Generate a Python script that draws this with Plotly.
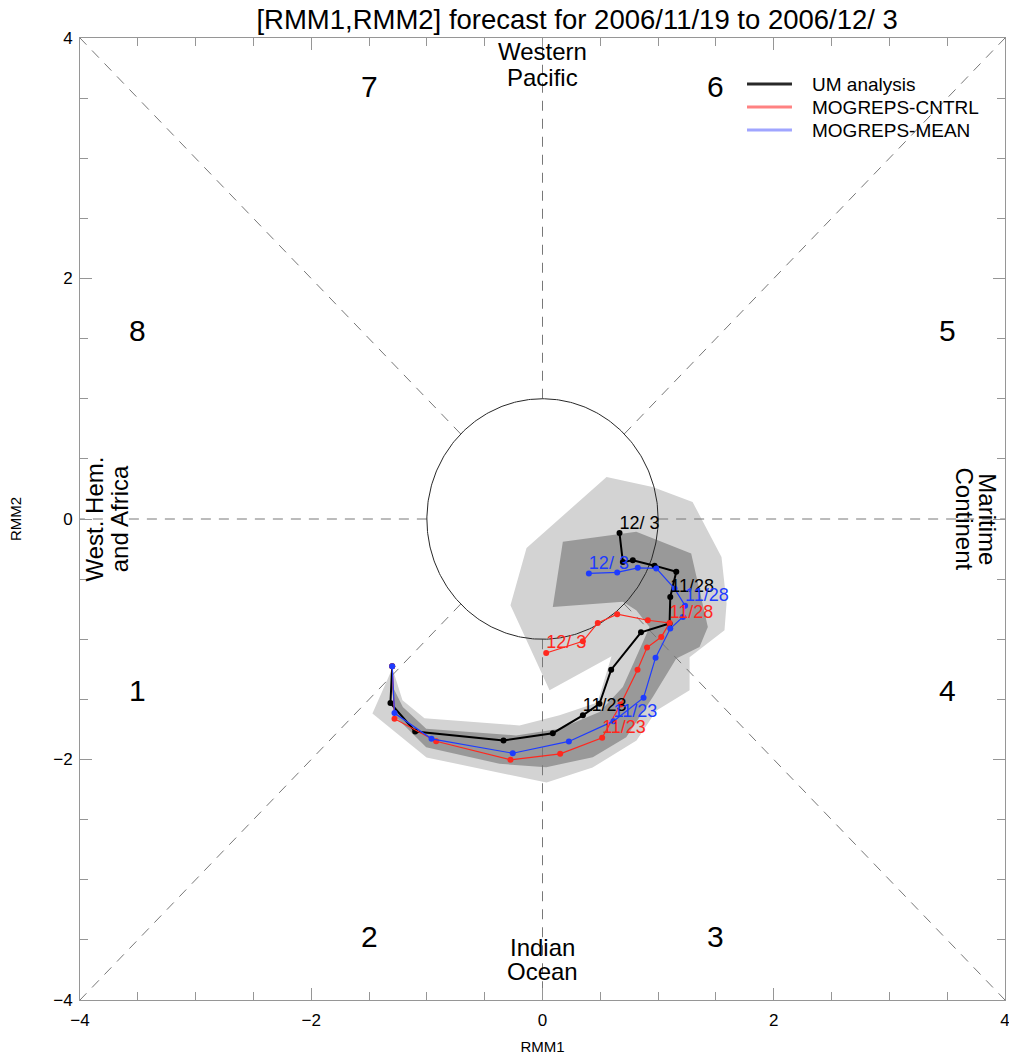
import numpy as np
import plotly.graph_objects as go

# ---------------- data (RMM1, RMM2), 2006/11/18 initial .. 2006/12/03 ----------------
um_rmm1 = [-1.300, -1.315, -1.101, -0.337, 0.089, 0.349, 0.493, 0.594, 0.852, 1.099,
           1.105, 1.157, 0.969, 0.781, 0.695, 0.666]
um_rmm2 = [-1.225, -1.531, -1.767, -1.842, -1.781, -1.633, -1.536, -1.253, -0.942, -0.869,
           -0.648, -0.438, -0.388, -0.344, -0.358, -0.117]

ctl_rmm1 = [-1.300, -1.280, -0.920, -0.277, 0.153, 0.516, 0.675, 0.822, 0.904, 1.027,
            1.099, 0.911, 0.646, 0.478, 0.349, 0.032]
ctl_rmm2 = [-1.225, -1.661, -1.848, -2.003, -1.953, -1.819, -1.542, -1.253, -1.069, -0.981,
            -0.864, -0.842, -0.792, -0.864, -1.017, -1.114]

mean_rmm1 = [-1.300, -1.280, -0.960, -0.257, 0.228, 0.614, 0.874, 0.978, 1.105, 1.214,
             1.233, 1.142, 0.984, 0.824, 0.646, 0.401]
mean_rmm2 = [-1.225, -1.614, -1.828, -1.948, -1.850, -1.681, -1.486, -1.153, -0.911, -0.814,
             -0.721, -0.579, -0.411, -0.406, -0.444, -0.453]

date_labels = ["11/23", "11/28", "12/ 3"]
date_index = [5, 10, 15]

# ensemble spread envelopes
outer_rmm1 = [0.061, -0.277, -0.138, 0.554, 0.952, 1.298, 1.548, 1.592, 1.574, 1.272, 1.272,
              0.986, 0.813, 0.433, 0.035, -0.346, -1.003, -1.471, -1.298, -1.211, -1.021,
              -0.199, 0.147, 0.476, 0.597, 0.061]
outer_rmm2 = [-1.425, -0.717, -0.242, 0.350, 0.267, 0.142, -0.317, -0.700, -0.925, -1.150,
              -1.425, -1.592, -1.842, -2.067, -2.192, -2.117, -1.983, -1.617, -1.242, -1.508,
              -1.658, -1.717, -1.633, -1.525, -1.142, -1.425]

inner_rmm1 = [0.176, 0.811, 1.286, 1.330, 1.430, 1.358, 1.157, 0.954, 0.724, 0.435, 0.032,
              -0.372, -1.006, -1.266, -1.309, -1.208, -1.006, -0.228, 0.147, 0.493, 0.695,
              0.811, 0.926, 0.811, 0.695, 0.089, 0.176]
inner_rmm2 = [-0.189, -0.106, -0.286, -0.481, -0.898, -1.064, -1.161, -1.481, -1.814, -1.981,
              -2.064, -2.036, -1.898, -1.648, -1.369, -1.564, -1.744, -1.800, -1.744, -1.606,
              -1.398, -1.148, -0.898, -0.758, -0.689, -0.731, -0.189]

phase_names = ["1", "2", "3", "4", "5", "6", "7", "8"]
series_names = ["UM analysis", "MOGREPS-CNTRL", "MOGREPS-MEAN"]

FONT = "Liberation Sans, Arial, sans-serif"
BLACK = "#000000"
RED = "rgb(255,40,30)"
BLUE = "rgb(30,60,255)"

fig = go.Figure()

# shading
fig.add_trace(go.Scatter(x=outer_rmm1, y=outer_rmm2, mode="lines", fill="toself",
                         fillcolor="rgb(211,211,211)", line=dict(width=0),
                         hoverinfo="skip", showlegend=False))
fig.add_trace(go.Scatter(x=inner_rmm1, y=inner_rmm2, mode="lines", fill="toself",
                         fillcolor="rgb(153,153,153)", line=dict(width=0),
                         hoverinfo="skip", showlegend=False))

# phase-dividing dashed lines (outside unit circle)
for ang in range(0, 360, 45):
    a = np.deg2rad(ang)
    rmax = 4.0 / max(abs(np.cos(a)), abs(np.sin(a)))
    fig.add_trace(go.Scatter(x=[np.cos(a), rmax * np.cos(a)],
                             y=[np.sin(a), rmax * np.sin(a)],
                             mode="lines", line=dict(color="rgb(120,120,120)", width=1,
                                                     dash="10px,8px"),
                             hoverinfo="skip", showlegend=False))

# unit circle
th = np.linspace(0, 2 * np.pi, 361)
fig.add_trace(go.Scatter(x=np.cos(th), y=np.sin(th), mode="lines",
                         line=dict(color="rgb(40,40,40)", width=1),
                         hoverinfo="skip", showlegend=False))

# trajectories
series = [
    (um_rmm1, um_rmm2, BLACK, 2.0),
    (ctl_rmm1, ctl_rmm2, RED, 1.2),
    (mean_rmm1, mean_rmm2, BLUE, 1.2),
]
for (xs, ys, col, w) in series:
    fig.add_trace(go.Scatter(x=xs, y=ys, mode="lines+markers",
                             line=dict(color=col, width=w),
                             marker=dict(color=col, size=6),
                             hoverinfo="skip", showlegend=False))
for (xs, ys, col, w) in series:
    fig.add_trace(go.Scatter(x=[xs[i] for i in date_index], y=[ys[i] for i in date_index],
                             mode="text", text=date_labels, textposition="top right",
                             textfont=dict(family=FONT, size=18, color=col),
                             hoverinfo="skip", showlegend=False))

# legend (drawn manually, paper coordinates)
legend_cols = ["rgb(40,40,40)", "rgb(255,130,130)", "rgb(160,165,255)"]
legend_y = [0.9522, 0.9283, 0.9044]
for name, col, ly in zip(series_names, legend_cols, legend_y):
    fig.add_shape(type="line", xref="paper", yref="paper", x0=0.7211, x1=0.7697,
                  y0=ly, y1=ly, line=dict(color=col, width=3))
    fig.add_annotation(xref="paper", yref="paper", x=0.7892, y=ly - 0.001, text=name,
                       showarrow=False, xanchor="left", yanchor="middle",
                       font=dict(family=FONT, size=19, color="black"))

# phase numbers
phase_x = [-3.5, -1.5, 1.5, 3.5, 3.5, 1.5, -1.5, -3.5]
phase_y = [-1.43, -3.47, -3.47, -1.43, 1.57, 3.6, 3.6, 1.57]
for t, px, py in zip(phase_names, phase_x, phase_y):
    fig.add_annotation(x=px, y=py, text=t, showarrow=False,
                       font=dict(family=FONT, size=30, color="black"),
                       xanchor="center", yanchor="middle")

region_font = dict(family=FONT, size=24, color="black")
region_lines = [
    ("Western", 0, 3.89, 0), ("Pacific", 0, 3.675, 0),
    ("Indian", 0, -3.567, 0), ("Ocean", 0, -3.767, 0),
    ("West. Hem.", -3.875, 0, -90), ("and Africa", -3.66, 0, -90),
    ("Maritime", 3.85, 0, 90), ("Continent", 3.65, 0, 90),
]
for txt, ax_, ay_, ang in region_lines:
    fig.add_annotation(x=ax_, y=ay_, text=txt, showarrow=False, font=region_font,
                       textangle=ang, xanchor="center", yanchor="middle")

axis_common = dict(range=[-4, 4], showgrid=False, zeroline=False, automargin=False,
                   showline=True, linecolor="rgb(150,150,150)", linewidth=1, mirror="ticks",
                   ticks="inside", ticklen=12, tickcolor="rgb(150,150,150)",
                   tickvals=[-4, -2, 0, 2, 4], ticktext=["\u22124", "\u22122", "0", "2", "4"],
                   tickfont=dict(family=FONT, size=17, color="black"),
                   ticklabeloverflow="allow",
                   minor=dict(dtick=0.5, ticks="inside", ticklen=8, tickcolor="rgb(150,150,150)",
                              showgrid=False),
                   fixedrange=True)

fig.update_layout(
    width=1009, height=1057,
    margin=dict(l=80, r=4, t=38, b=57),
    paper_bgcolor="white", plot_bgcolor="white",
    title=dict(text="[RMM1,RMM2] forecast for 2006/11/19 to 2006/12/ 3",
               xref="container", x=0.572, xanchor="center",
               yref="container", y=0.982, yanchor="middle",
               font=dict(family=FONT, size=27.5, color="black")),
    xaxis=dict(axis_common, ticklabelstandoff=5,
               title=dict(text="RMM1", standoff=12,
                          font=dict(family=FONT, size=15, color="black"))),
    yaxis=dict(axis_common, ticklabelstandoff=3,
               title=dict(text="RMM2", standoff=27,
                          font=dict(family=FONT, size=15, color="black"))),
    showlegend=False,
)

fig.write_html("out.html", config={"displayModeBar": False},
               post_script="document.body.style.margin='0px';")
